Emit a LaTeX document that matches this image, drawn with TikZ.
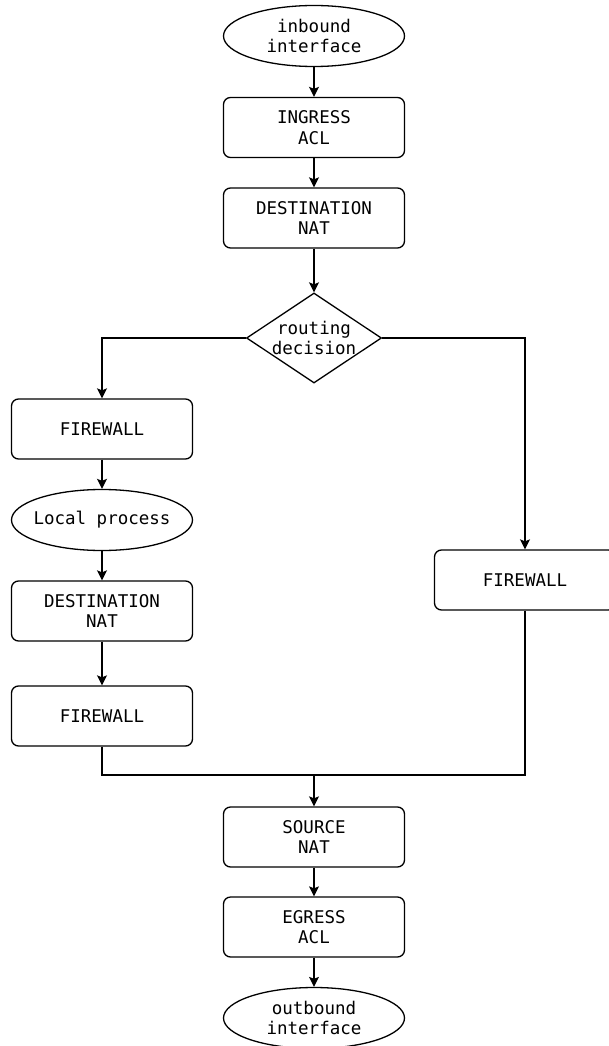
\documentclass[tikz,border=0pt]{standalone}
\usepackage{fontspec}
\setmonofont{DejaVu Sans Mono}
\usetikzlibrary{shapes.geometric,arrows.meta}
\begin{document}
\begin{tikzpicture}[x=1pt,y=-1pt,
  every node/.style={font=\ttfamily\fontsize{17.5}{20.5}\selectfont, align=center, line width=1.3pt, draw, inner sep=0pt},
  stepbox/.style={rectangle, rounded corners=7pt, minimum width=181pt, minimum height=60pt},
  term/.style={ellipse, inner sep=-14pt, minimum width=181pt, minimum height=61pt},
  decision/.style={diamond, aspect=1.5, inner sep=-12pt, minimum width=135pt, minimum height=90pt},
  flow/.style={line width=1.3pt, -{Stealth[length=10pt,width=10pt,inset=2pt]}},
  link/.style={line width=1.3pt}]
\useasboundingbox (0,0) rectangle (608,1046);
\fill[white] (0,0) rectangle (608,1046);

% main column
\node[term]    (in)    at (314,36)   {inbound\\interface};
\node[stepbox] (ing)   at (314,127.5){INGRESS\\ACL};
\node[stepbox] (dnat)  at (314,218)  {DESTINATION\\NAT};
\node[decision](route) at (314,338)  {routing\\decision};

% local delivery branch
\node[stepbox] (fw1)   at (102,429)  {FIREWALL};
\node[term]    (lp)    at (102,520)  {Local process};
\node[stepbox] (dnat2) at (102,611)  {DESTINATION\\NAT};
\node[stepbox] (fw2)   at (102,716)  {FIREWALL};

% forwarding branch
\node[stepbox] (fw3)   at (525,580)  {FIREWALL};

% egress column
\node[stepbox] (snat)  at (314,837)  {SOURCE\\NAT};
\node[stepbox] (eacl)  at (314,927)  {EGRESS\\ACL};
\node[term]    (out)   at (314,1018) {outbound\\interface};

\coordinate (merge) at (314,775);

\draw[flow] (in) -- (ing);
\draw[flow] (ing) -- (dnat);
\draw[flow] (dnat) -- (route);
\draw[flow] (route.west) -| (fw1.north);
\draw[flow] (route.east) -| (fw3.north);
\draw[flow] (fw1) -- (lp);
\draw[flow] (lp) -- (dnat2);
\draw[flow] (dnat2) -- (fw2);
\draw[link] (fw2.south) |- (merge);
\draw[link] (fw3.south) |- (merge);
\draw[flow] (merge) -- (snat);
\draw[flow] (snat) -- (eacl);
\draw[flow] (eacl) -- (out);
\end{tikzpicture}
\end{document}
